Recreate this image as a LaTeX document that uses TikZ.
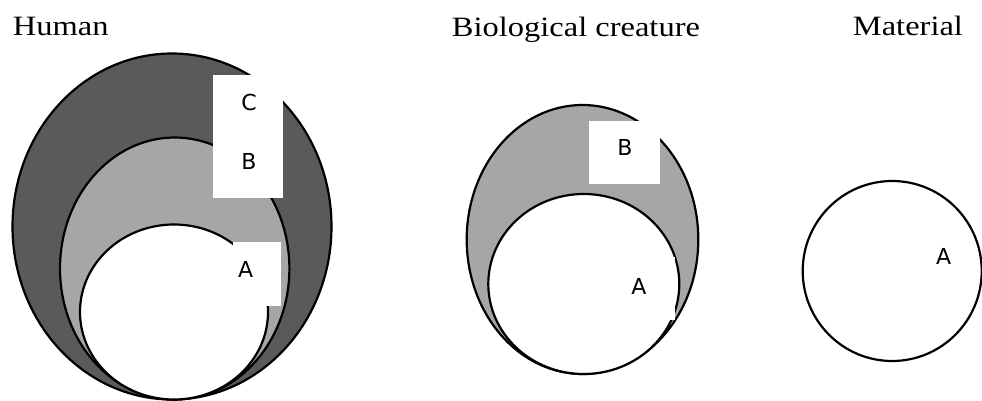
\documentclass[tikz,border=0pt]{standalone}
\usepackage{fontspec}
\setmainfont{Liberation Serif}
\newfontfamily\labelfont{DejaVu Sans}
\definecolor{darkfill}{RGB}{90,90,90}
\definecolor{lightfill}{RGB}{166,166,166}
\begin{document}
\begin{tikzpicture}[x=1pt,y=-1pt,
  outline/.style={draw=black,line width=2.2pt},
  mask/.style={fill=white,draw=none},
  title/.style={font=\fontsize{28}{30}\selectfont,inner sep=0pt,anchor=base west,xscale=1.16},
  lab/.style={font=\labelfont\fontsize{22}{24}\selectfont,inner sep=0pt,anchor=center}]
\useasboundingbox (0,0) rectangle (982,401);
\fill[white] (0,0) rectangle (982,401);
% titles
\node[title] (tHuman) at (12.7,36) {Human};
\node[title] (tBio) at (451.7,36.5) {Biological creature};
\node[title] (tMat) at (852.7,36) {Material};
% Human
\draw[outline,fill=darkfill] (172,226.5) ellipse [x radius=159.5pt,y radius=173pt];
\draw[outline,fill=lightfill] (174.7,268.5) ellipse [x radius=114.7pt,y radius=131pt];
\draw[outline,fill=white] (174,312) ellipse [x radius=94pt,y radius=87.5pt];
\fill[mask] (212.7,75) rectangle (283.3,198.3);
\fill[mask] (233.3,241.7) rectangle (280.7,306);
\node[lab] (hC) at (249,102.5) {C};
\node[lab] (hB) at (249,161) {B};
\node[lab] (hA) at (245.7,269) {A};
% Biological creature
\draw[outline,fill=lightfill] (582.5,239.5) ellipse [x radius=115.8pt,y radius=134.5pt];
\draw[outline,fill=white] (583.8,284) ellipse [x radius=95.5pt,y radius=90pt];
\fill[mask] (589,120.7) rectangle (660,184.3);
\fill[mask] (605,256.7) rectangle (675,320);
\node[lab] (bB) at (625,147.3) {B};
\node[lab] (bA) at (639,286.7) {A};
% Material
\draw[outline] (892.2,271) ellipse [x radius=89.5pt,y radius=90pt];
\node[lab] (mA) at (943.7,256.5) {A};
\end{tikzpicture}
\end{document}
